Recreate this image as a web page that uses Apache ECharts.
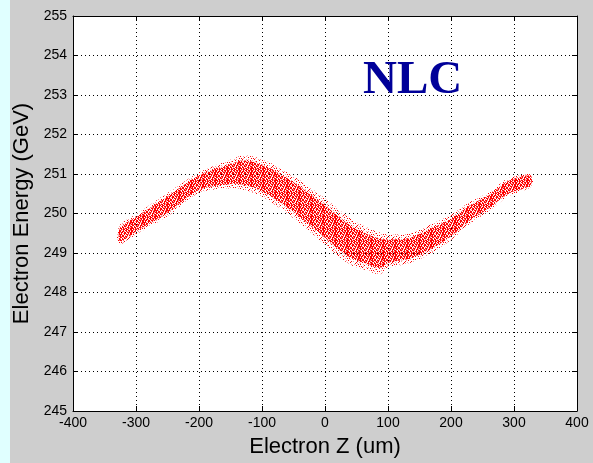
<!DOCTYPE html>
<html>
<head>
<meta charset="utf-8">
<script src="https://cdn.jsdelivr.net/npm/echarts@6/dist/echarts.min.js"></script>
<style>
  html, body { margin: 0; padding: 0; background: #cecece; }
  #chart { width: 593px; height: 463px; }
</style>
</head>
<body>
<div id="chart"></div>
<script>
// band of the electron cloud (z in um, energy in GeV)
const zEdge = [-330, -325, -300, -250, -200, -150, -130, -100, -50, 0, 40, 70, 87, 100, 135, 166, 200, 230, 262, 289, 326, 330]
const eUpper = [249.45, 249.72, 249.98, 250.52, 251.04, 251.36, 251.47, 251.38, 250.95, 250.38, 249.88, 249.62, 249.52, 249.47, 249.50, 249.71, 249.96, 250.29, 250.55, 250.88, 251.02, 250.87]
const eLower = [249.38, 249.22, 249.47, 249.93, 250.52, 250.64, 250.60, 250.43, 249.88, 249.21, 248.70, 248.54, 248.46, 248.62, 248.75, 248.97, 249.33, 249.74, 250.08, 250.42, 250.66, 250.78]
const xTicks = { min: -400, max: 400, step: 100 }
const yTicks = { min: 245, max: 255, step: 1 }
const title = 'NLC'

// speckle tiles so the band reads as a cloud of dots
const makeTile = (rows) => {
  const c = document.createElement('canvas')
  c.width = rows[0].length
  c.height = rows.length
  const ctx = c.getContext('2d')
  rows.forEach((r, y) => {
    for (let x = 0; x < r.length; x++) {
      if (r[x] === 'x') ctx.fillStyle = '#ff0000'
      else if (r[x] === 'o') ctx.fillStyle = '#ff9a9a'
      else continue
      ctx.fillRect(x, y, 1, 1)
    }
  })
  return { image: c, repeat: 'repeat' }
}
const denseTile = makeTile([
  'xx.xoxx.xo.x',
  '.xoxx.xxo.xx',
  'xo.x.xx.xxo.',
  'x.xxo.xo.x.x',
  'oxx.xx.xxo.x',
  '.x.oxxo.x.xx',
  'xxo.x.xxo.x.',
  'x.xx.o.x.xxo',
  '.oxx.xxo.x.x',
  'xx.ox.x.xxo.',
  'o.x.xxo.x.xx',
  'x.xx.o.xx.ox'
])
const sparseTile = makeTile([
  'x..o..o...x.',
  '....x...x...',
  '.x.o.......x',
  '..x...o.o...',
  'o......x..x.',
  '...ox.......',
  '.x.......o.x',
  '..o..x.x....',
  'x.........o.',
  '...x.o...x..',
  '..x.....x..o',
  'o......x.o..'
])

const chart = echarts.init(document.getElementById('chart'))

const axisCommon = {
  type: 'value',
  axisLine: { show: true, onZero: false, lineStyle: { color: '#000', width: 1 } },
  axisTick: { show: true, inside: true, length: 5, lineStyle: { color: '#000' } }
}
const font = 'Liberation Sans'

chart.setOption({
  backgroundColor: '#cecece',
  animation: false,
  graphic: [
    { type: 'rect', left: 0, top: 0, shape: { width: 10, height: 463 }, style: { fill: '#e0ffff' }, z: -10 },
    {
      type: 'text', left: 363, top: 57, z: 100,
      style: { text: title, fill: '#000099', font: 'bold 47px "Liberation Serif", "Times New Roman", serif' }
    }
  ],
  grid: { left: 73, top: 16, right: 16, bottom: 50, show: true, backgroundColor: '#fff', borderWidth: 0 },
  xAxis: [
    Object.assign({}, axisCommon, {
      position: 'bottom', min: xTicks.min, max: xTicks.max, interval: xTicks.step,
      name: 'Electron Z (um)', nameLocation: 'middle', nameGap: 25,
      nameTextStyle: { color: '#000', fontSize: 22, fontFamily: font },
      axisLabel: { color: '#000', fontSize: 14, fontFamily: font, margin: 5 },
      splitLine: { show: true, lineStyle: { color: '#000', type: [1, 3], width: 1 } }
    }),
    Object.assign({}, axisCommon, {
      position: 'top', min: xTicks.min, max: xTicks.max, interval: xTicks.step,
      axisLabel: { show: false }, splitLine: { show: false }
    })
  ],
  yAxis: [
    Object.assign({}, axisCommon, {
      position: 'left', min: yTicks.min, max: yTicks.max, interval: yTicks.step,
      name: 'Electron Energy (GeV)', nameLocation: 'middle', nameGap: 37,
      nameTextStyle: { color: '#000', fontSize: 22, fontFamily: font },
      axisLabel: { color: '#000', fontSize: 14, fontFamily: font, margin: 6 },
      splitLine: { show: true, lineStyle: { color: '#000', type: [1, 3], width: 1 } }
    }),
    Object.assign({}, axisCommon, {
      position: 'right', min: yTicks.min, max: yTicks.max, interval: yTicks.step,
      axisLabel: { show: false }, splitLine: { show: false }
    })
  ],
  series: [
    {
      type: 'custom',
      data: [[0, 250]],
      encode: { x: 0, y: 1 },
      z: 5,
      renderItem: (params, api) => {
        const outer = []
        const inner = []
        for (let i = 0; i < zEdge.length; i++) outer.push(api.coord([zEdge[i], eUpper[i]]))
        for (let i = zEdge.length - 1; i >= 0; i--) outer.push(api.coord([zEdge[i], eLower[i]]))
        // denser core inside the band
        for (let i = 1; i < zEdge.length - 1; i++) {
          const d = eUpper[i] - eLower[i]
          inner.push(api.coord([zEdge[i], eUpper[i] - d * 0.15]))
        }
        for (let i = zEdge.length - 2; i >= 1; i--) {
          const d = eUpper[i] - eLower[i]
          inner.push(api.coord([zEdge[i], eLower[i] + d * 0.15]))
        }
        return {
          type: 'group',
          children: [
            { type: 'polygon', shape: { points: outer, smooth: 0.3 }, style: { fill: sparseTile } },
            { type: 'polygon', shape: { points: inner, smooth: 0.3 }, style: { fill: denseTile } }
          ]
        }
      }
    }
  ]
})
</script>
</body>
</html>
